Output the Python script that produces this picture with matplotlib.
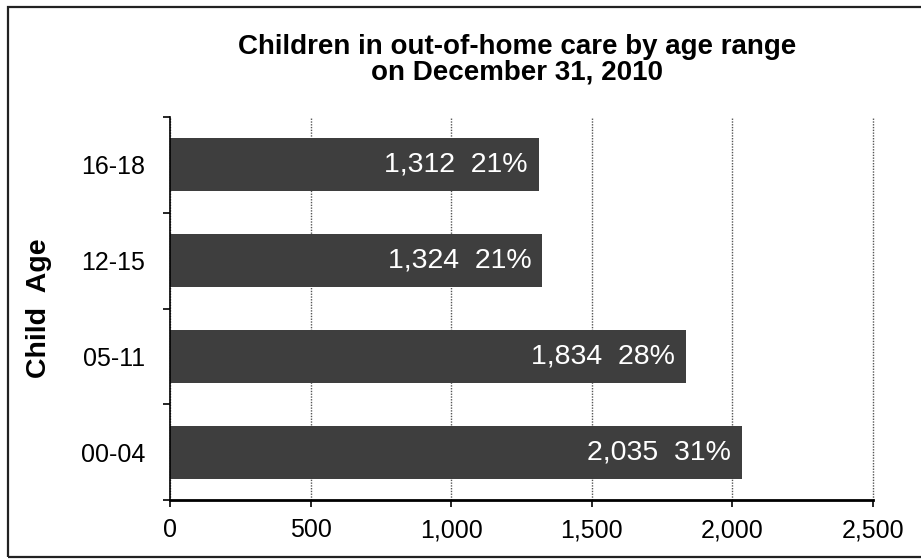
import matplotlib
matplotlib.use("Agg")
import matplotlib.pyplot as plt
from matplotlib.patches import Rectangle

plt.rcParams['font.family'] = ['Liberation Sans', 'DejaVu Sans']

# Data
age_ranges = ["00-04", "05-11", "12-15", "16-18"]
children = [2035, 1834, 1324, 1312]
percent_labels = ["31%", "28%", "21%", "21%"]
x_ticks = [0, 500, 1000, 1500, 2000, 2500]

W, H = 921, 560
fig = plt.figure(figsize=(W / 100, H / 100), dpi=100)
fig.patch.set_facecolor("white")

# Frame around the whole chart
fig.patches.append(Rectangle((8 / W, 1 - 557 / H), (930 - 8) / W, (557 - 7) / H,
                             transform=fig.transFigure, fill=False,
                             edgecolor="#222222", linewidth=1.6, clip_on=False))

ax = fig.add_axes([170 / W, 1 - 500 / H, (873 - 170) / W, (500 - 117) / H])

ypos = list(range(len(age_ranges)))
ax.barh(ypos, children, height=0.555, color="#3e3e3e", edgecolor="none", zorder=2)

for y, v, p in zip(ypos, children, percent_labels):
    ax.annotate(f"{v:,}  {p}", xy=(v, y), xytext=(-11, 0), textcoords="offset pixels",
                ha="right", va="center", color="white", fontsize=20.5, zorder=3)

ax.set_xlim(0, 2500)
ax.set_ylim(-0.5, len(age_ranges) - 0.5)
ax.set_xticks(x_ticks)
ax.set_xticklabels([f"{t:,}" for t in x_ticks], fontsize=18)
ax.set_yticks(ypos)
ax.set_yticklabels(age_ranges, fontsize=18)
ax.tick_params(axis="y", length=0, pad=18)
ax.tick_params(axis="x", length=5, width=1.2, pad=8, direction="out")

# Minor ticks mark the category boundaries on the y axis
ax.set_yticks([i - 0.5 for i in range(len(age_ranges) + 1)], minor=True)
ax.tick_params(axis="y", which="minor", length=5, width=1.2, direction="out")

ax.grid(axis="x", color="#555555", linestyle=(0, (1, 1)), linewidth=1.0, zorder=1)
for gl in ax.get_xgridlines():
    gl.set_clip_on(False)
for s in ["top", "right"]:
    ax.spines[s].set_visible(False)
ax.spines["left"].set_linewidth(1.2)
ax.spines["bottom"].set_linewidth(2.0)

fig.text(39 / W, 1 - 308 / H, "Child  Age", rotation=90, ha="center", va="center",
         fontsize=20.5, fontweight="bold")

fig.text(517 / W, 1 - 54 / H, "Children in out-of-home care by age range",
         ha="center", va="baseline", fontsize=20, fontweight="bold")
fig.text(517 / W, 1 - 80 / H, "on December 31, 2010",
         ha="center", va="baseline", fontsize=20, fontweight="bold")

fig.savefig("out.png", dpi=100)
